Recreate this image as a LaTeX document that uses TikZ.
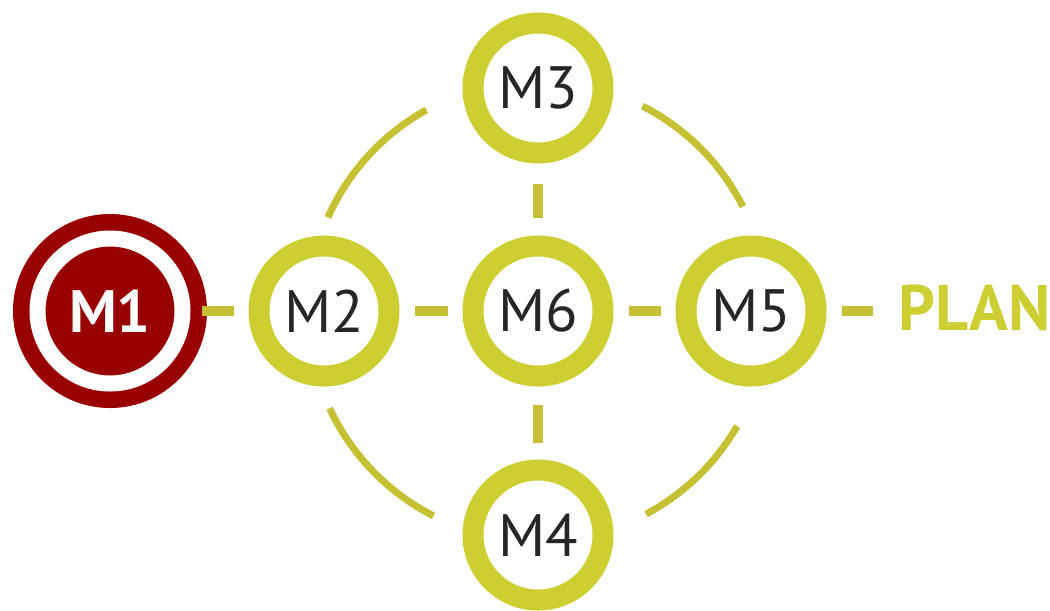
\documentclass[tikz,border=0pt]{standalone}
\usepackage{fontspec}
\setmainfont{PT Sans}
\usetikzlibrary{calc}

\definecolor{ringgreen}{RGB}{205,206,50}
\definecolor{linegreen}{RGB}{198,193,52}
\definecolor{mred}{RGB}{153,0,0}

\begin{document}
\begin{tikzpicture}[x=0.1mm, y=0.1mm,
    mnode/.style={circle, draw=ringgreen, line width=2.1mm, minimum size=13mm, inner sep=0pt, fill=white, text=black!85, font=\fontsize{17}{19}\selectfont},
    link/.style={linegreen, line width=0.95mm, shorten <=1.5mm, shorten >=1.5mm}]
    \def\radius{23mm}
    \useasboundingbox (0,0) rectangle (1050,610);

    % Nodes
    \node[mnode] (m6) at (538,299) {M6};
    \node[mnode] (m2) at (324,299) {M2};
    \node[mnode] (m5) at (751,299) {M5};
    \node[mnode] (m3) at (538,522) {M3};
    \node[mnode] (m4) at (538,75) {M4};
    \node[circle, fill=mred, draw=mred, double=white, double distance=1.6mm, line width=1.65mm, minimum size=14.5mm, inner sep=0pt, outer sep=2.45mm, text=white, font=\bfseries\fontsize{17}{19}\selectfont] (m1) at (110,299) {M1};
    \node[anchor=west, inner sep=0pt, text=ringgreen, font=\bfseries\fontsize{18.3}{20}\selectfont] (plan) at (898,302) {PLAN};

    % Arcs round M6
    \draw[linegreen, line width=0.7mm] ($(m6)+(27:\radius)$) arc[start angle=27, end angle=63, radius=\radius];
    \draw[linegreen, line width=0.7mm] ($(m6)+(119:\radius)$) arc[start angle=119, end angle=156, radius=\radius];
    \draw[linegreen, line width=0.7mm] ($(m6)+(205:\radius)$) arc[start angle=205, end angle=243, radius=\radius];
    \draw[linegreen, line width=0.7mm] ($(m6)+(298:\radius)$) arc[start angle=298, end angle=330, radius=\radius];

    % Short links
    \draw[link, shorten <=-0.5mm] (m1) -- (m2);
    \draw[link] (m2) -- (m6);
    \draw[link] (m6) -- (m5);
    \draw[link, shorten >=2.5mm] (m5) -- (m5 -| plan.west);
    \draw[link, shorten <=2mm, shorten >=1.75mm] (m3) -- (m6);
    \draw[link, shorten <=1.85mm, shorten >=1.65mm] (m6) -- (m4);
\end{tikzpicture}
\end{document}
